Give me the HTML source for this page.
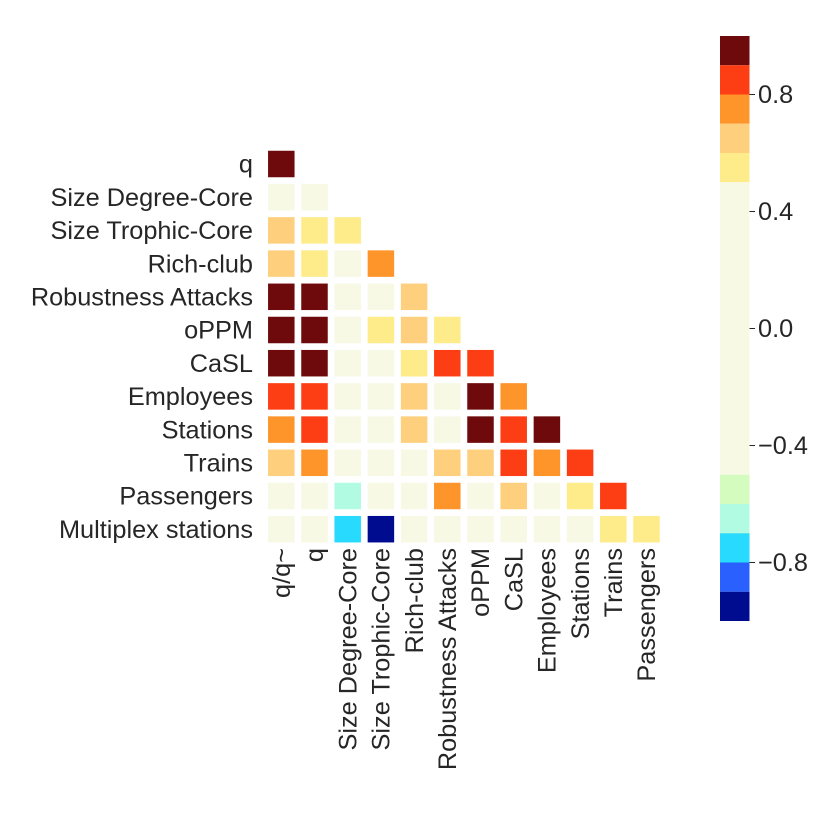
<!DOCTYPE html>
<html><head><meta charset="utf-8"><style>
html,body{margin:0;padding:0;background:#fff;}
svg{display:block;font-family:"Liberation Sans","DejaVu Sans",sans-serif;}
</style></head><body>
<svg id="chart" width="830" height="830" viewBox="0 0 830 830" xmlns="http://www.w3.org/2000/svg"></svg>
<script>
const rowLabels=["q","Size Degree-Core","Size Trophic-Core","Rich-club","Robustness Attacks","oPPM","CaSL","Employees","Stations","Trains","Passengers","Multiplex stations"];
const colLabels=["q/q~","q","Size Degree-Core","Size Trophic-Core","Rich-club","Robustness Attacks","oPPM","CaSL","Employees","Stations","Trains","Passengers"];
const values=[
[0.95],
[0.3,0.3],
[0.65,0.55,0.55],
[0.65,0.55,0.3,0.75],
[0.95,0.95,0.3,0.3,0.65],
[0.95,0.95,0.3,0.55,0.65,0.55],
[0.95,0.95,0.3,0.3,0.55,0.85,0.85],
[0.85,0.85,0.3,0.3,0.65,0.3,0.95,0.75],
[0.75,0.85,0.3,0.3,0.65,0.3,0.95,0.85,0.95],
[0.65,0.75,0.3,0.3,0.3,0.65,0.65,0.85,0.75,0.85],
[0.3,0.3,-0.65,0.3,0.3,0.75,0.3,0.65,0.3,0.55,0.85],
[0.3,0.3,-0.75,-0.95,0.3,0.3,0.3,0.3,0.3,0.3,0.55,0.55]
];
const cbTicks=[0.8,0.4,0.0,-0.4,-0.8];
const cbBins=[[0.9,1.0,"#6e0a0b"],[0.8,0.9,"#fd3d13"],[0.7,0.8,"#fe952b"],[0.6,0.7,"#fecf7c"],[0.5,0.6,"#feec8a"],[-0.5,0.5,"#f7f9e5"],[-0.6,-0.5,"#d4fcbf"],[-0.7,-0.6,"#b0fbe2"],[-0.8,-0.7,"#27dafe"],[-0.9,-0.8,"#2a60fe"],[-1.0,-0.9,"#000c8f"]];

const NS="http://www.w3.org/2000/svg";
const svg=document.getElementById("chart");
function mk(t,a){const e=document.createElementNS(NS,t);for(const k in a)e.setAttribute(k,a[k]);return e;}
function color(v){for(const b of cbBins){if(v>=b[0]&&v<=b[1])return b[2];}return "#f7f9e5";}
const pitch=33.2, x0=264.7, y0=147.4, cell=26.5, fs=25.3;
const xc=i=>x0+pitch*i+pitch/2, yc=j=>y0+pitch*j+pitch/2;
const cbY=v=>328.5-(v)*292.5;

values.forEach((row,j)=>{
  row.forEach((v,i)=>{
    const r=mk("rect",{x:xc(i)-cell/2,y:yc(j)-cell/2,width:cell,height:cell,fill:color(v)});
    
    
    svg.appendChild(r);
  });
});
rowLabels.forEach((l,j)=>{
  const t=mk("text",{x:253,y:yc(j)+8.7,"text-anchor":"end","font-size":fs,fill:"#262626"});
  t.textContent=l;
  
  
  svg.appendChild(t);
});
colLabels.forEach((l,i)=>{
  const t=mk("text",{transform:`translate(${xc(i)+8.7},548) rotate(-90)`,"text-anchor":"end","font-size":fs,fill:"#262626"});
  t.textContent=l;
  
  
  svg.appendChild(t);
});
cbBins.forEach(b=>{
  const r=mk("rect",{x:720,y:cbY(b[1]),width:29.5,height:cbY(b[0])-cbY(b[1]),fill:b[2]});
  
  
  svg.appendChild(r);
});
cbTicks.forEach(v=>{
  const y=cbY(v);
  const ln=mk("line",{x1:749.5,x2:755,y1:y,y2:y,stroke:"#262626","stroke-width":1});
  
  
  svg.appendChild(ln);
  const t=mk("text",{x:758,y:y+8.7,"font-size":fs,fill:"#262626"});
  t.textContent=(v<0?"\u2212":"")+Math.abs(v).toFixed(1);
  
  
  svg.appendChild(t);
});
</script>
</body></html>
